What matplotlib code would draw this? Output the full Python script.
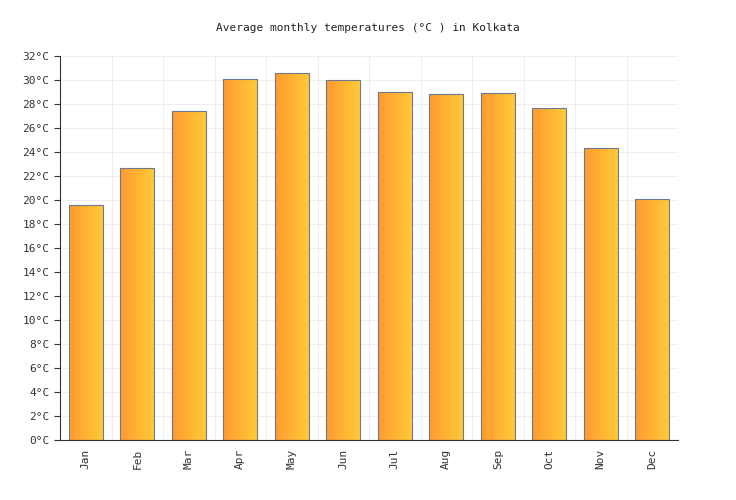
import matplotlib
matplotlib.use("Agg")
import matplotlib.pyplot as plt
import numpy as np
from matplotlib.colors import LinearSegmentedColormap

months = ["Jan","Feb","Mar","Apr","May","Jun","Jul","Aug","Sep","Oct","Nov","Dec"]
temps = [19.6, 22.7, 27.4, 30.1, 30.6, 30.0, 29.0, 28.8, 28.9, 27.7, 24.3, 20.1]
yticks = list(range(0, 33, 2))

plt.rcParams["font.family"] = "DejaVu Sans Mono"
fig = plt.figure(figsize=(7.36, 5.0), dpi=100)
ax = fig.add_axes([60/736, 60/500, 618/736, 384/500])
cmap = LinearSegmentedColormap.from_list("g", ["#FF9A30", "#FFCA38"])
grad = np.linspace(0, 1, 100).reshape(1, -1)
w = 0.66
x = np.arange(len(months))
bars = ax.bar(x, temps, width=w, color="none", edgecolor="#6b7b8c", linewidth=0.8, zorder=3)
for b in bars:
    im = ax.imshow(grad, cmap=cmap, aspect="auto", extent=[b.get_x(), b.get_x()+b.get_width(), 0, b.get_height()], zorder=2)
    im.set_clip_path(b)
ax.set_xlim(-0.5, len(months)-0.5)
ax.set_ylim(0, 32)
ax.set_yticks(yticks)
ax.set_yticklabels([f"{t}°C" for t in yticks], fontsize=8, color="#333333")
ax.set_xticks(x)
ax.set_xticklabels(months, rotation=90, fontsize=8, color="#333333")
ax.set_xticks(np.arange(-0.5, len(months), 1), minor=True)
ax.grid(True, axis="y", color="#eeeeee", linewidth=0.8, zorder=0)
ax.grid(True, axis="x", which="minor", color="#eeeeee", linewidth=0.8, zorder=0)
ax.tick_params(axis="x", which="major", length=0, pad=6)
ax.tick_params(axis="x", which="minor", length=0)
ax.tick_params(axis="y", length=4, color="#333333")
for s in ["top", "right"]:
    ax.spines[s].set_visible(False)
ax.spines["left"].set_color("#333333")
ax.spines["bottom"].set_color("#333333")
fig.text(0.5, 1-28/500, "Average monthly temperatures (°C ) in Kolkata", ha="center", va="center", fontsize=8, color="#222222")
fig.savefig("out.png", dpi=100, facecolor="white")
